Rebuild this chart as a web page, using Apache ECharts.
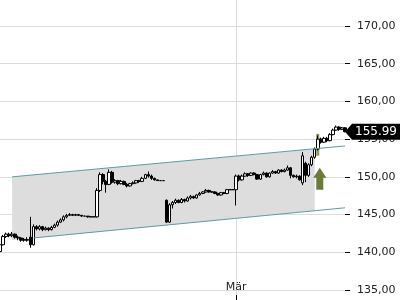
<!DOCTYPE html>
<html>
<head>
<meta charset="utf-8">
<script src="https://cdn.jsdelivr.net/npm/echarts@6/dist/echarts.min.js"></script>
<style>html,body{margin:0;padding:0;background:#fff}#c{width:400px;height:300px}</style>
</head>
<body>
<div id="c"></div>
<script>
// ---- data ----
const categories = Array.from({length: 115}, (_, i) => 'K' + i);
const xTickLabels = {78: 'Mär'};
const yTicks = [135, 140, 145, 150, 155, 160, 165, 170];

const open = [140.1,141.0,142.1,142.4,142.2,142.4,142.0,141.9,141.6,141.7,
  142.0,141.0,143.4,143.1,143.4,143.0,143.2,143.0,143.3,143.6,
  144.0,144.3,144.7,144.9,145.0,144.9,145.0,144.9,144.8,144.8,
  144.7,144.7,144.7,148.2,150.3,149.4,149.0,150.6,149.3,149.5,
  149.1,149.4,149.0,148.8,149.1,149.2,149.5,149.4,149.8,150.3,
  150.1,149.8,149.6,149.5,149.5,146.9,144.0,146.3,146.6,146.9,
  146.6,147.0,146.8,147.2,147.4,147.2,147.6,147.8,148.0,148.2,
  148.0,148.0,147.8,147.6,147.9,147.8,148.3,148.3,148.3,150.1,
  149.6,150.1,150.4,150.2,150.5,150.3,149.7,150.3,150.5,150.0,
  150.5,150.7,150.5,150.9,150.7,150.9,151.2,150.2,150.0,150.1,
  149.2,151.8,150.2,151.6,152.6,153.7,155.0,154.6,155.1,154.8,
  155.6,156.2,156.6,156.3,156.5];
const close = [141.0,142.1,142.4,142.2,142.4,142.0,141.9,141.6,141.7,141.6,
  141.0,143.4,143.1,143.4,143.0,143.2,143.0,143.3,143.6,144.0,
  144.3,144.7,144.9,145.0,144.9,145.0,144.9,144.8,144.8,144.7,
  144.7,144.7,148.2,150.3,149.4,149.0,150.6,149.3,149.5,149.1,
  149.4,149.0,148.8,149.1,149.2,149.5,149.4,149.8,150.3,150.1,
  149.8,149.6,149.5,149.5,149.5,144.0,146.3,146.6,146.9,146.6,
  147.0,146.8,147.2,147.4,147.2,147.6,147.8,148.0,148.2,148.0,
  148.0,147.8,147.6,147.9,147.8,148.3,148.3,148.3,150.1,149.6,
  150.1,150.4,150.2,150.5,150.3,149.7,150.3,150.5,150.0,150.5,
  150.7,150.5,150.9,150.7,150.9,151.2,150.2,150.0,150.1,149.6,
  152.8,150.2,151.6,152.6,153.7,155.0,154.6,155.1,154.8,155.6,
  156.2,156.6,156.3,156.5,155.99];
const low = [139.9,140.9,141.9,142.0,142.0,141.8,141.6,141.4,141.4,141.4,
  140.6,140.9,142.9,142.9,142.8,142.9,142.8,142.9,143.2,143.4,
  143.9,144.1,144.5,144.8,144.8,144.8,144.8,144.7,144.8,144.6,
  144.7,144.7,144.6,148.0,149.0,147.9,148.9,149.1,149.1,148.9,
  149.0,148.9,148.6,148.7,149.0,149.1,149.2,149.3,149.7,149.9,
  149.6,149.5,149.5,149.5,149.5,143.9,143.9,145.8,146.4,146.5,
  146.5,146.6,146.7,147.0,147.1,147.1,147.5,147.7,147.9,147.9,
  147.9,147.7,147.5,147.5,147.7,147.7,148.3,148.3,146.2,149.4,
  149.5,150.0,150.0,150.1,150.2,149.6,149.6,150.2,149.9,149.9,
  150.4,150.4,150.4,150.6,150.6,150.8,149.8,149.9,149.8,149.5,
  148.9,149.3,150.0,151.4,152.4,153.5,154.4,154.5,154.6,154.7,
  155.5,156.1,156.1,156.2,155.9];
const high = [141.2,142.3,142.6,142.6,142.7,142.5,142.2,142.0,141.9,142.0,
  144.7,143.7,143.6,143.6,143.5,143.4,143.3,143.5,143.8,144.2,
  144.5,144.9,145.1,145.2,145.1,145.1,145.0,144.9,144.8,144.8,
  144.7,144.7,148.5,150.6,150.5,149.6,151.0,150.8,149.7,149.6,
  149.6,149.5,149.2,149.2,149.4,149.6,149.6,150.0,150.4,150.7,
  150.3,149.9,149.6,149.5,149.5,147.0,146.5,146.8,147.1,147.0,
  147.2,147.1,147.4,147.6,147.5,147.7,148.0,148.1,148.4,148.3,
  148.1,148.1,147.9,148.0,148.0,148.4,148.3,148.3,150.3,150.3,
  150.3,150.6,150.5,150.6,150.6,150.4,150.4,150.7,150.6,150.6,
  150.9,150.8,151.0,151.0,151.1,151.5,151.3,150.3,150.3,150.2,
  153.3,152.0,151.8,152.8,153.9,155.5,155.2,155.3,155.3,155.8,
  156.4,156.8,156.7,156.6,156.6];

// annotations (category index, price)
const channelTop = [[4, 150.0], [114, 154.1]];
const channelBottom = [[11, 141.9], [114, 145.9]];
const channelFill = [[4, 150.0], [104, 153.7], [104, 145.5], [4, 141.6]];
const breakoutBar = [105, 152.8, 155.7];
const arrowMark = [106, 148.3, 151.2];
const lastPrice = 155.99;

const gridRight = 55;
const candles = open.map((o, i) => [o, close[i], low[i], high[i]]);
const fmt = v => v.toFixed(2).replace('.', ',');

const chart = echarts.init(document.getElementById('c'), null, {renderer: 'canvas'});
chart.setOption({
  animation: false,
  backgroundColor: '#fff',
  textStyle: {fontFamily: 'DejaVu Sans'},
  grid: [
    {left: 0, right: gridRight, top: 26, bottom: 10},
    {left: 0, right: gridRight, top: 0, bottom: 0}
  ],
  xAxis: [
    {
      type: 'category', data: categories, boundaryGap: false, gridIndex: 0, offset: 5,
      axisLine: {show: false},
      axisTick: {show: true, length: 5, interval: (i) => xTickLabels[i] !== undefined, lineStyle: {color: '#000'}},
      axisLabel: {inside: true, margin: 2, color: '#222', fontSize: 11, fontFamily: 'DejaVu Sans',
        interval: (i) => xTickLabels[i] !== undefined, formatter: (v, i) => xTickLabels[i] || ''},
      splitLine: {show: false}
    },
    {
      type: 'category', data: categories, boundaryGap: false, gridIndex: 1,
      axisLine: {show: false}, axisTick: {show: false}, axisLabel: {show: false},
      splitLine: {show: true, interval: (i) => xTickLabels[i] !== undefined, lineStyle: {color: '#dcdcdc', width: 1}}
    }
  ],
  yAxis: [
    {
      type: 'value', position: 'right', gridIndex: 0, min: yTicks[0], max: yTicks[yTicks.length - 1], interval: 5,
      axisLine: {show: false},
      axisTick: {show: true, length: 5, lineStyle: {color: '#000'}},
      axisLabel: {margin: 12, color: '#222', fontSize: 11, fontFamily: 'DejaVu Sans', formatter: fmt},
      splitLine: {show: true, lineStyle: {color: '#dcdcdc', width: 1}}
    },
    {type: 'value', gridIndex: 1, show: false, min: 0, max: 1, splitLine: {show: false}}
  ],
  series: [
    {
      type: 'custom', xAxisIndex: 0, yAxisIndex: 0, z: 1, data: [[0, 150]], clip: false,
      renderItem: (params, api) => {
        const pts = channelFill.map(p => api.coord(p));
        const bw = api.size([1, 0])[0];
        const b1 = api.coord([breakoutBar[0], breakoutBar[2]]);
        const b2 = api.coord([breakoutBar[0], breakoutBar[1]]);
        return {type: 'group', children: [
          {type: 'polygon', shape: {points: pts}, style: {fill: '#dddddd'}},
          {type: 'rect', shape: {x: b1[0] - bw / 2, y: b1[1], width: bw, height: b2[1] - b1[1]}, style: {fill: '#8b9a54'}}
        ]};
      }
    },
    {
      type: 'candlestick', xAxisIndex: 0, yAxisIndex: 0, z: 2, data: candles, barWidth: 3,
      itemStyle: {color: '#ffffff', color0: '#000000', borderColor: '#000000', borderColor0: '#000000', borderWidth: 1}
    },
    {
      type: 'custom', xAxisIndex: 0, yAxisIndex: 0, z: 3, data: [[0, 150]], clip: false,
      renderItem: (params, api) => {
        const t0 = api.coord(channelTop[0]), t1 = api.coord(channelTop[1]);
        const u0 = api.coord(channelBottom[0]), u1 = api.coord(channelBottom[1]);
        const aTop = api.coord([arrowMark[0], arrowMark[2]]);
        const aBot = api.coord([arrowMark[0], arrowMark[1]]);
        const cx = aTop[0] - 1, hw = 6.5, sw = 3.5, head = 10;
        return {type: 'group', children: [
          {type: 'line', shape: {x1: t0[0], y1: t0[1], x2: t1[0], y2: t1[1]}, style: {stroke: '#5a9ea3', lineWidth: 1}},
          {type: 'line', shape: {x1: u0[0], y1: u0[1], x2: u1[0], y2: u1[1]}, style: {stroke: '#5a9ea3', lineWidth: 1}},
          {type: 'polygon', shape: {points: [
            [cx, aTop[1]], [cx + hw, aTop[1] + head], [cx + sw, aTop[1] + head], [cx + sw, aBot[1]],
            [cx - sw, aBot[1]], [cx - sw, aTop[1] + head], [cx - hw, aTop[1] + head]]},
            style: {fill: '#6b7b3a'}}
        ]};
      }
    }
  ]
});

// last price tag on the price axis
const yPx = chart.convertToPixel({yAxisIndex: 0}, lastPrice);
const axisX = chart.getWidth() - gridRight;
chart.setOption({
  graphic: [
    {type: 'polygon', z: 10, shape: {points: [[axisX, yPx], [axisX + 7, yPx - 8], [chart.getWidth(), yPx - 8], [chart.getWidth(), yPx + 8], [axisX + 7, yPx + 8]]}, style: {fill: '#000'}},
    {type: 'text', z: 11, x: axisX + 31, y: yPx, style: {text: lastPrice.toFixed(2), fill: '#fff', font: '12px DejaVu Sans', textAlign: 'center', textVerticalAlign: 'middle'}}
  ]
});
</script>
</body>
</html>
